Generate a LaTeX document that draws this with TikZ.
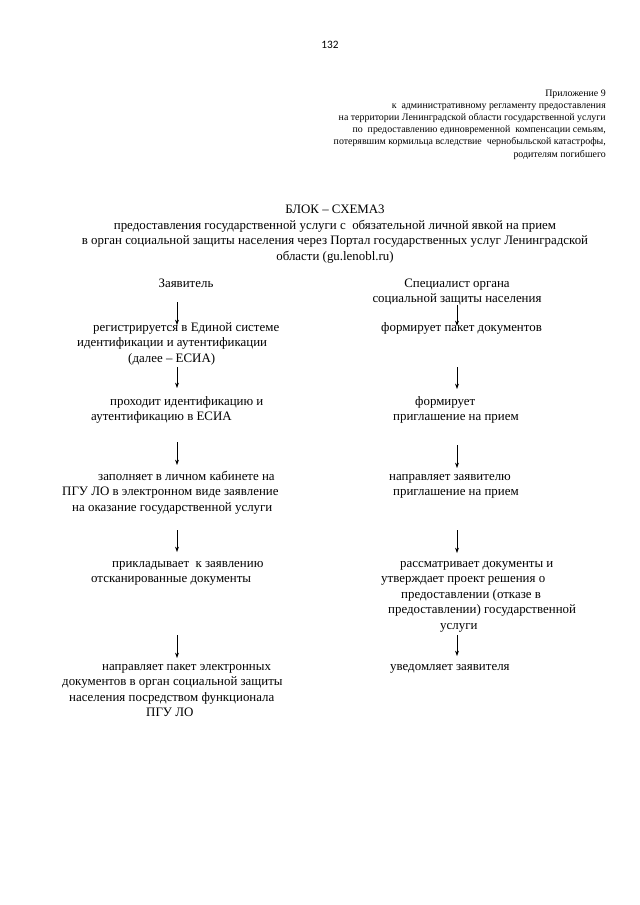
\documentclass[tikz,border=0pt]{standalone}
\usepackage{fontspec}
\setmainfont{Liberation Serif}
\newfontfamily\numfont{Carlito}
\usetikzlibrary{arrows.meta}
\newlength\pxu
\setlength\pxu{0.93pt}
\newcommand\ind[1]{\hspace*{#1\pxu}}
\newcommand\dsp{\ \ }
\begin{document}
\begin{tikzpicture}[x=0.93pt,y=-0.93pt,
  body/.style={font=\fontsize{12}{14.4}\selectfont, inner sep=0pt, align=left, anchor=base west},
  bodyc/.style={font=\fontsize{12}{14.4}\selectfont, inner sep=0pt, align=center, anchor=base},
  appx/.style={font=\fontsize{9.2}{11.2}\selectfont, inner sep=0pt, align=right, anchor=base east},
  arr/.style={line width=0.6pt, -{Stealth[length=5pt,width=3.6pt]}}
]
\fill[white] (0,0) rectangle (640,905);
\useasboundingbox (0,0) rectangle (640,905);

% multi-line nodes are placed by the baseline of their last line
\node[font=\numfont\fontsize{10.5}{12}\selectfont, inner sep=0pt, anchor=base] (pnum) at (330,48) {132};

\node[appx] (appendix) at (606,157) {Приложение 9\\
к\dsp административному регламенту предоставления\\
на территории Ленинградской области государственной услуги\\
по\dsp предоставлению единовременной\dsp компенсации семьям,\\
потерявшим кормильца вследствие\dsp чернобыльской катастрофы,\\
родителям погибшего};

\node[bodyc] (title) at (335,260) {БЛОК – СХЕМА3\\
предоставления государственной услуги с\dsp обязательной личной явкой на прием\\
в орган социальной защиты населения через Портал государственных услуг Ленинградской\\
области (gu.lenobl.ru)};

% left column
\node[bodyc] (L0) at (186,287) {Заявитель};
\node[body] (L1) at (77,362) {\ind{16}регистрируется в Единой системе\\
идентификации и аутентификации\\
\ind{51}(далее – ЕСИА)};
\node[body] (L2) at (91,420.5) {\ind{19}проходит идентификацию и\\
аутентификацию в ЕСИА};
\node[body] (L3) at (62,511) {\ind{36}заполняет в личном кабинете на\\
ПГУ ЛО в электронном виде заявление\\
\ind{10}на оказание государственной услуги};
\node[body] (L4) at (91,582.5) {\ind{21}прикладывает\dsp к заявлению\\
отсканированные документы};
\node[body] (L5) at (62,716.5) {\ind{40}направляет пакет электронных\\
документов в орган социальной защиты\\
\ind{7}населения посредством функционала\\
\ind{84}ПГУ ЛО};

% right column
\node[bodyc] (R0) at (457,302.5) {Специалист органа\\
социальной защиты населения};
\node[body] (R1) at (381,331) {формирует пакет документов};
\node[body] (R2) at (393,420.5) {\ind{22}формирует\\
приглашение на прием};
\node[body] (R3) at (389,495.5) {направляет заявителю\\
\ind{4}приглашение на прием};
\node[body] (R4) at (381,629) {\ind{19}рассматривает документы и\\
утверждает проект решения о\\
\ind{20}предоставлении (отказе в\\
\ind{7}предоставлении) государственной\\
\ind{59}услуги};
\node[body] (R5) at (390,670) {уведомляет заявителя};

% arrows left
\foreach \i/\a/\b in {1/302/325,2/367/388,3/442/465,4/530/552,5/635/658}{
  \coordinate (la\i s) at (177,\a);
  \coordinate (la\i e) at (177,\b);
  \draw[arr] (la\i s) -- (la\i e);
}
% arrows right
\foreach \i/\a/\b in {1/305/326,2/367/389,3/445/468,4/530/553,5/635/656}{
  \coordinate (ra\i s) at (457,\a);
  \coordinate (ra\i e) at (457,\b);
  \draw[arr] (ra\i s) -- (ra\i e);
}
\end{tikzpicture}
\end{document}
